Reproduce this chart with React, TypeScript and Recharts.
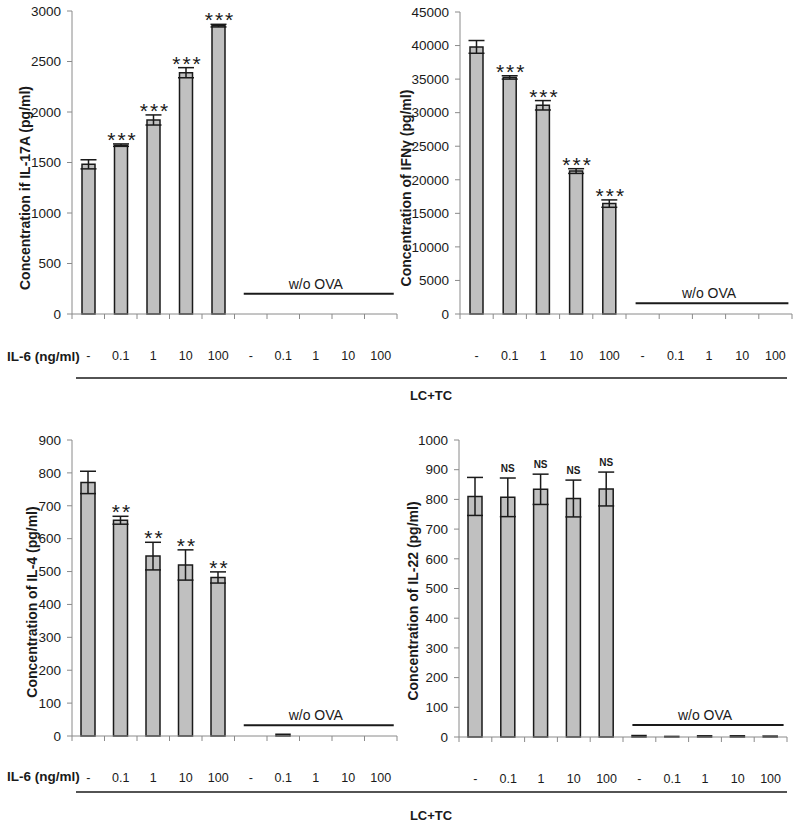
import React from "react";
import { BarChart, Bar, XAxis, YAxis, ErrorBar, LabelList, ReferenceLine } from "recharts";

const FONT = "'Liberation Sans', Arial, Helvetica, sans-serif";
const AXIS = "#8a8a8a";
const INK = "#1a1a1a";

// ten conditions: LC+TC with OVA, then without OVA, each at five IL-6 doses
const conditions = ["ova-0", "ova-0.1", "ova-1", "ova-10", "ova-100", "none-0", "none-0.1", "none-1", "none-10", "none-100"];
const doseLabels = ["-", "0.1", "1", "10", "100", "-", "0.1", "1", "10", "100"];

const il17aValues = [1482, 1672, 1921, 2389, 2855, 0, 0, 0, 0, 0];
const il17aErrors = [45, 12, 50, 50, 13, null, null, null, null, null];
const il17aSig = ["", "***", "***", "***", "***", "", "", "", "", ""];
const il17aTicks = [0, 500, 1000, 1500, 2000, 2500, 3000];

const ifngValues = [39800, 35250, 31100, 21300, 16450, 0, 0, 0, 0, 0];
const ifngErrors = [950, 250, 700, 350, 550, null, null, null, null, null];
const ifngSig = ["", "***", "***", "***", "***", "", "", "", "", ""];
const ifngTicks = [0, 5000, 10000, 15000, 20000, 25000, 30000, 35000, 40000, 45000];

const il4Values = [771, 656, 547, 520, 482, 0, 5, 0, 0, 0];
const il4Errors = [34, 12, 42, 46, 17, null, null, null, null, null];
const il4Sig = ["", "**", "**", "**", "**", "", "", "", "", ""];
const il4Ticks = [0, 100, 200, 300, 400, 500, 600, 700, 800, 900];

const il22Values = [810, 807, 834, 803, 835, 5, 2, 4, 4, 3];
const il22Errors = [64, 65, 51, 62, 57, null, null, null, null, null];
const il22Sig = ["", "NS", "NS", "NS", "NS", "", "", "", "", ""];
const il22Ticks = [0, 100, 200, 300, 400, 500, 600, 700, 800, 900, 1000];

// height of the "w/o OVA" bracket in each panel
const il17aWoOva = 200;
const ifngWoOva = 1600;
const il4WoOva = 33;
const il22WoOva = 40;

type PanelProps = {
  values: number[];
  errors: (number | null)[];
  sig: string[];
  ticks: number[];
  woOva: number;
  left: number;
  top: number;
  width: number;
  height: number;
  marginTop: number;
  marginRight: number;
  yAxisWidth: number;
  xAxisHeight: number;
  barSize: number;
};

function DoseTick(props: any) {
  const { x, y, payload, halfBand, count } = props;
  const index = payload?.index ?? props.index ?? 0;
  const half = payload?.offset > 0 ? payload.offset : halfBand;
  return (
    <g>
      <line x1={x - half} x2={x - half} y1={y} y2={y + 5} stroke={AXIS} />
      {index === count - 1 && <line x1={x + half} x2={x + half} y1={y} y2={y + 5} stroke={AXIS} />}
      <text x={x} y={y + 46} textAnchor="middle" fontSize={12.5} fill={INK}>
        {doseLabels[index]}
      </text>
    </g>
  );
}

function Panel(p: PanelProps) {
  const rows = conditions.map((id, i) => ({ id, value: p.values[i], err: p.errors[i], sig: p.sig[i] }));
  const yMax = p.ticks[p.ticks.length - 1];
  const plotH = p.height - p.marginTop - p.xAxisHeight;
  const plotW = p.width - p.yAxisWidth - p.marginRight;
  const unit = plotH / yMax;

  const renderSig = (lp: any) => {
    const vb = lp.viewBox && lp.viewBox.width != null ? lp.viewBox : lp;
    const text = lp.value;
    if (!text) return null;
    const row = rows[lp.index];
    const barTop = Math.min(vb.y, vb.y + vb.height);
    const cx = vb.x + vb.width / 2;
    const top = barTop - (row.err ?? 0) * unit;
    if (text === "NS") {
      return (
        <text x={cx} y={top - 6} textAnchor="middle" fontSize={10} fontWeight="bold" fill={INK}>
          {text}
        </text>
      );
    }
    return (
      <text x={cx + 1.5} y={top + 3} textAnchor="middle" fontSize={21} letterSpacing={2} fill={INK}>
        {text}
      </text>
    );
  };

  return (
    <div style={{ position: "absolute", left: p.left, top: p.top }}>
      <BarChart
        width={p.width}
        height={p.height}
        data={rows}
        margin={{ top: p.marginTop, right: p.marginRight, bottom: 0, left: 0 }}
        barCategoryGap={0}
      >
        <XAxis
          dataKey="id"
          interval={0}
          tickLine={false}
          tickSize={0}
          tickMargin={0}
          height={p.xAxisHeight}
          stroke={AXIS}
          tick={(tp: any) => <DoseTick {...tp} halfBand={plotW / conditions.length / 2} count={conditions.length} />}
        />
        <YAxis
          type="number"
          domain={[0, yMax]}
          ticks={p.ticks}
          interval={0}
          width={p.yAxisWidth}
          tickSize={5}
          tickMargin={6}
          stroke={AXIS}
          tick={{ fill: INK, fontSize: 13.5 }}
        />
        <Bar dataKey="value" fill="#c0c0c0" stroke={INK} strokeWidth={1.5} barSize={p.barSize} isAnimationActive={false}>
          <ErrorBar dataKey="err" width={8} stroke={INK} strokeWidth={1.5} isAnimationActive={false} />
          <LabelList dataKey="sig" content={renderSig} />
        </Bar>
        <ReferenceLine
          segment={[
            { x: conditions[5], y: p.woOva },
            { x: conditions[9], y: p.woOva },
          ]}
          ifOverflow="visible"
          shape={(lp: any) => (
            <line x1={lp.x1 - 7} y1={lp.y1} x2={lp.x2 + 13} y2={lp.y2} stroke={INK} strokeWidth={2} />
          )}
          label={{ value: "w/o OVA", position: "top", fill: INK, fontSize: 14, offset: 5 }}
        />
      </BarChart>
    </div>
  );
}

function YTitle({ x, y, text }: { x: number; y: number; text: React.ReactNode }) {
  return (
    <text
      x={x}
      y={y}
      transform={`rotate(-90 ${x} ${y})`}
      textAnchor="middle"
      dominantBaseline="central"
      fontSize={14}
      fontWeight="bold"
      fill={INK}
    >
      {text}
    </text>
  );
}

export default function App() {
  return (
    <div style={{ position: "absolute", left: 0, top: 0, width: 800, height: 836, background: "#fff", fontFamily: FONT }}>
      <Panel
        values={il17aValues}
        errors={il17aErrors}
        sig={il17aSig}
        ticks={il17aTicks}
        woOva={il17aWoOva}
        left={0}
        top={0}
        width={400}
        height={370}
        marginTop={11}
        marginRight={3}
        yAxisWidth={72}
        xAxisHeight={56}
        barSize={13}
      />
      <Panel
        values={ifngValues}
        errors={ifngErrors}
        sig={ifngSig}
        ticks={ifngTicks}
        woOva={ifngWoOva}
        left={400}
        top={0}
        width={400}
        height={370}
        marginTop={12}
        marginRight={8}
        yAxisWidth={60}
        xAxisHeight={56}
        barSize={13}
      />
      <Panel
        values={il4Values}
        errors={il4Errors}
        sig={il4Sig}
        ticks={il4Ticks}
        woOva={il4WoOva}
        left={0}
        top={420}
        width={400}
        height={370}
        marginTop={20}
        marginRight={3}
        yAxisWidth={72}
        xAxisHeight={54}
        barSize={14}
      />
      <Panel
        values={il22Values}
        errors={il22Errors}
        sig={il22Sig}
        ticks={il22Ticks}
        woOva={il22WoOva}
        left={400}
        top={420}
        width={400}
        height={370}
        marginTop={20}
        marginRight={13}
        yAxisWidth={59}
        xAxisHeight={53}
        barSize={14}
      />
      <svg width={800} height={836} style={{ position: "absolute", left: 0, top: 0, pointerEvents: "none" }}>
        <YTitle x={25} y={188} text="Concentration if IL-17A (pg/ml)" />
        <YTitle x={406} y={188} text="Concentration of IFNγ (pg/ml)" />
        <YTitle x={32} y={602} text="Concentration of IL-4 (pg/ml)" />
        <YTitle x={413} y={601} text="Concentration of IL-22 (pg/ml)" />

        <text x={7} y={361} fontSize={13.5} fontWeight="bold" fill={INK}>IL-6 (ng/ml)</text>
        <line x1={76} x2={787} y1={378} y2={378} stroke={INK} strokeWidth={1.5} />
        <text x={431} y={400} textAnchor="middle" fontSize={13} fontWeight="bold" fill={INK}>LC+TC</text>

        <text x={7} y={781} fontSize={13.5} fontWeight="bold" fill={INK}>IL-6 (ng/ml)</text>
        <line x1={76} x2={787} y1={792} y2={792} stroke={INK} strokeWidth={1.5} />
        <text x={431} y={820} textAnchor="middle" fontSize={13} fontWeight="bold" fill={INK}>LC+TC</text>
      </svg>
    </div>
  );
}
